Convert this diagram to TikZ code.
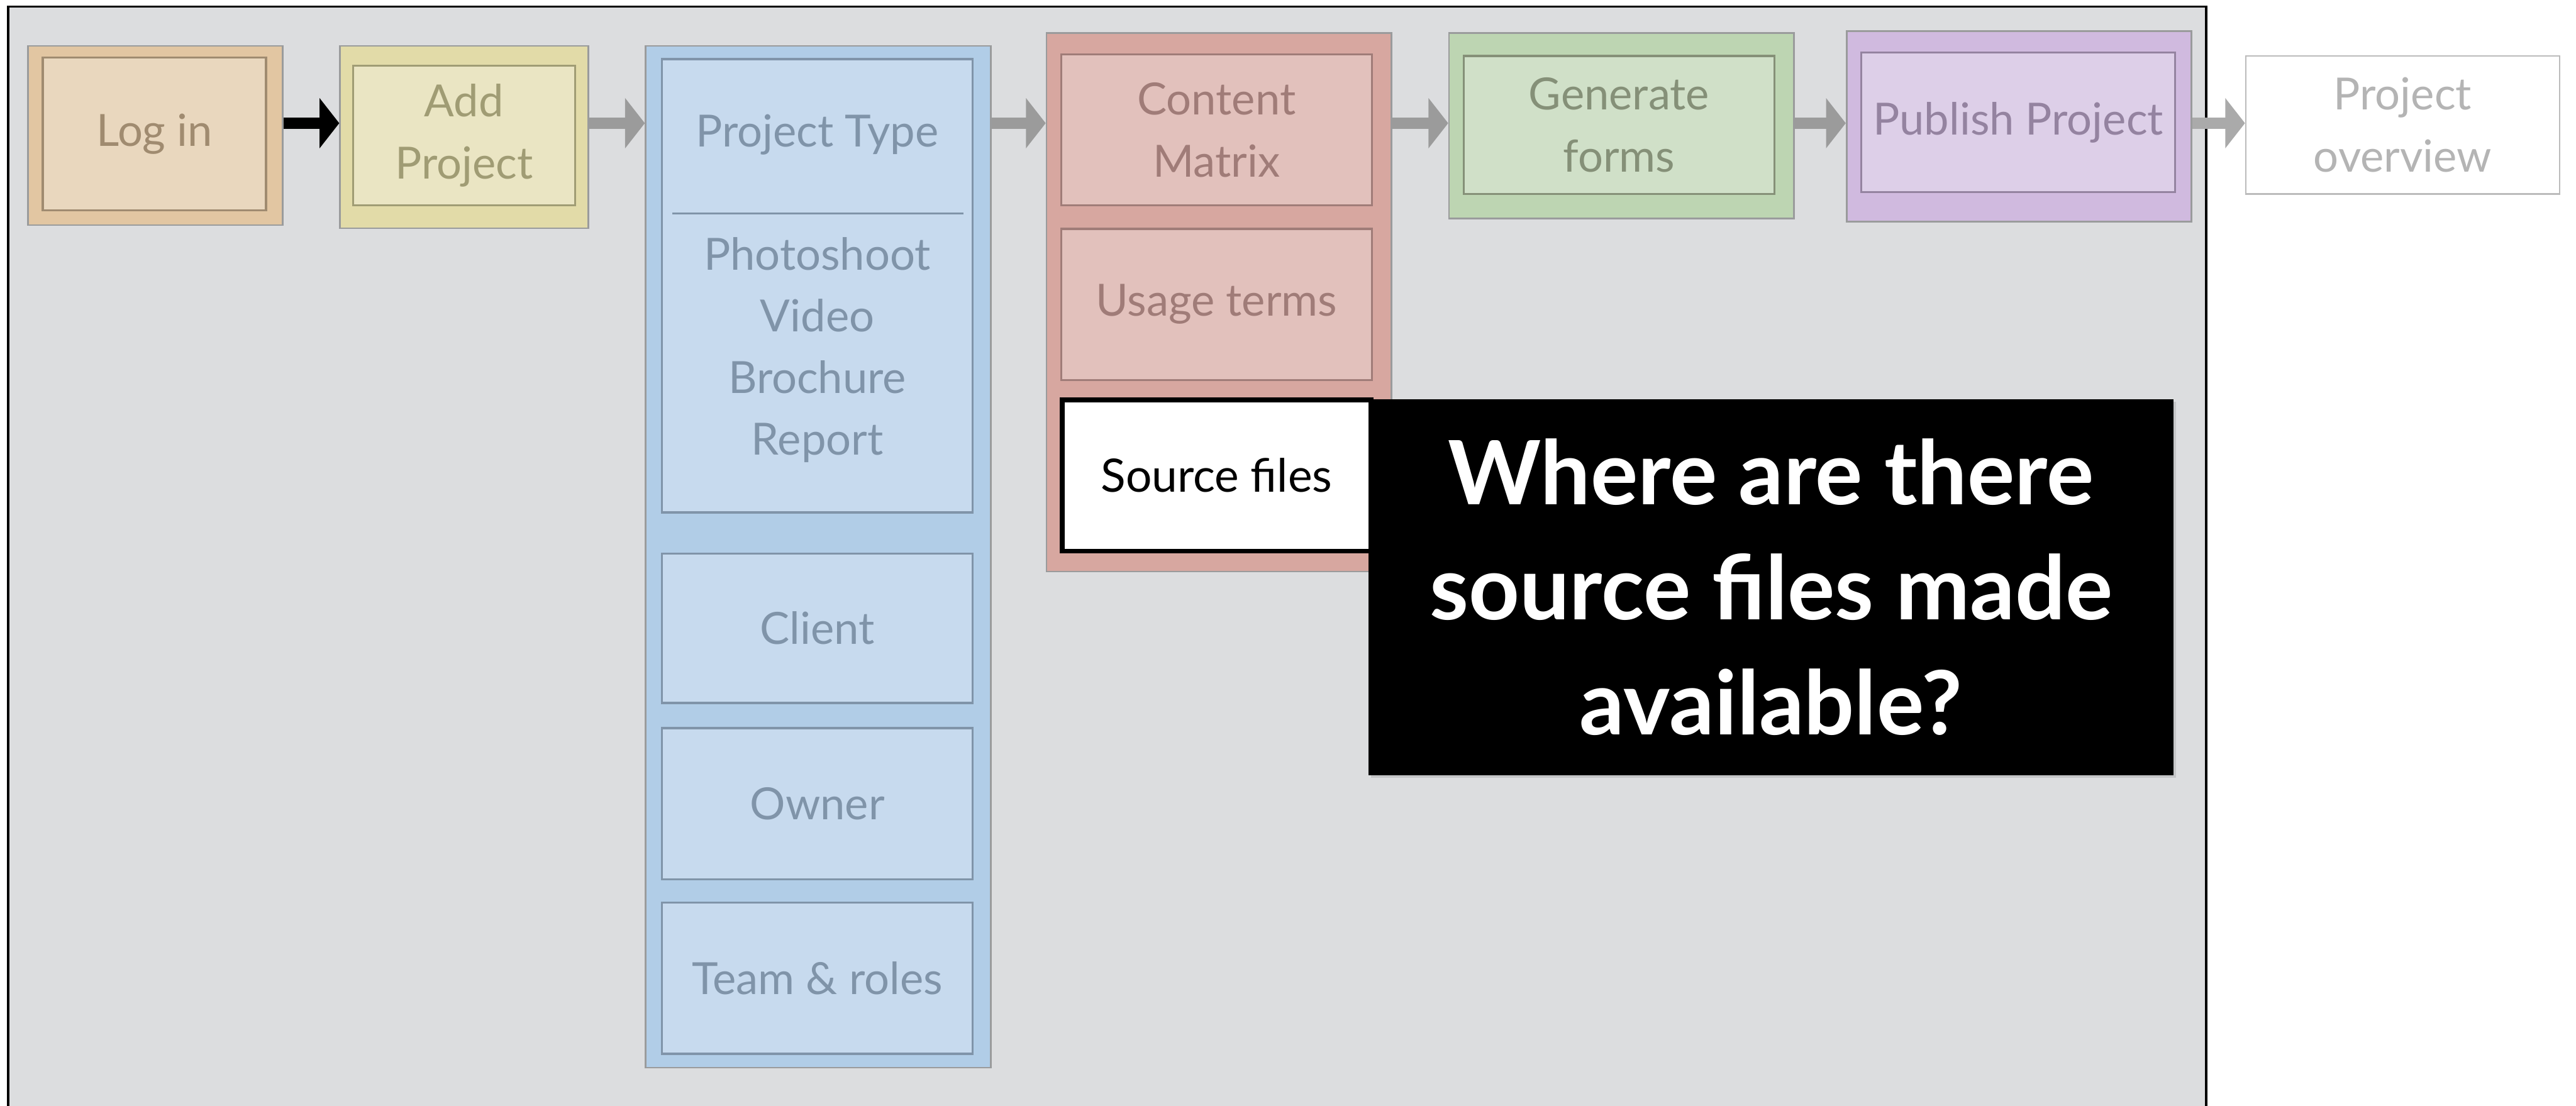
\documentclass[tikz,border=0pt]{standalone}
\usepackage{fontspec}
\setmainfont{Lato}
\usetikzlibrary{positioning,arrows.meta,calc,shadows}

\definecolor{bggrey}{HTML}{DCDDDF}
\definecolor{boxgrey}{HTML}{9A9B9C}
\definecolor{arrowgrey}{HTML}{9B9B9B}
% step colours: outer fill / inner fill / line+text
\definecolor{logout}{HTML}{E2C6A2}\definecolor{login}{HTML}{E9D7BE}\definecolor{logline}{HTML}{A08B70}
\definecolor{addout}{HTML}{E2DBA8}\definecolor{addin}{HTML}{EAE5C3}\definecolor{addline}{HTML}{A09C74}
\definecolor{blueout}{HTML}{B1CDE7}\definecolor{bluein}{HTML}{C7DAEE}\definecolor{blueline}{HTML}{8094A9}
\definecolor{redout}{HTML}{D7A7A0}\definecolor{redin}{HTML}{E2C1BC}\definecolor{redline}{HTML}{A07C78}
\definecolor{greenout}{HTML}{BDD5B2}\definecolor{greenin}{HTML}{D0E0C8}\definecolor{greenline}{HTML}{859078}
\definecolor{purpout}{HTML}{D0BADF}\definecolor{purpin}{HTML}{DDCFE8}\definecolor{purpline}{HTML}{9483A0}
\definecolor{fadegrey}{HTML}{B4B4B4}

\tikzset{
  outerbox/.style={rectangle, draw=boxgrey, line width=1pt, inner sep=0pt},
  innerbox/.style={rectangle, line width=1.3pt, inner sep=0pt, align=center, font=\fontsize{27}{38}\selectfont},
  txt/.style={align=center, inner sep=0pt, font=\fontsize{27}{37.5}\selectfont},
  connect/.style={-{Triangle[width=30pt,length=12pt]}, line width=7pt, draw=arrowgrey}
}

\begin{document}
\begin{tikzpicture}[x=1pt, y=-1pt]
  \useasboundingbox (0,0) rectangle (1568,673);

  % grey board
  \draw[fill=bggrey, draw=black, line width=1.5pt] (5,4) rectangle (1343,700);
  \coordinate (row) at (0,75);

  % Log in and Add Project
  \node[outerbox, fill=logout, minimum width=155pt, minimum height=109pt] (logbox) at (94.5,82.5) {};
  \node[innerbox, fill=login, draw=logline, text=logline, minimum width=136pt, minimum height=93pt] (log) at (94,81.5) {Log in};
  \node[outerbox, fill=addout, minimum width=151pt, minimum height=111pt] (addbox) at (282.5,83.5) {};
  \node[innerbox, fill=addin, draw=addline, text=addline, minimum width=135pt, minimum height=85pt] (add) at (282.5,82.5) {Add\\Project};

  % project details column
  \node[outerbox, fill=blueout, minimum width=210pt, minimum height=622pt] (bluebox) at (498,339) {};
  \node[innerbox, fill=bluein, draw=blueline, minimum width=189pt, minimum height=276pt] (ptype) at (497.5,174) {};
  \node[txt, text=blueline] (ptypetitle) at (497.5,82) {Project Type};
  \draw[blueline, line width=1pt] ($(ptype.west)+(7,-44)$) coordinate (sepl) -- ($(ptype.east)+(-6,-44)$) coordinate (sepr);
  \node[txt, text=blueline] (ptypelist) at (497.5,213) {Photoshoot\\Video\\Brochure\\Report};
  \node[innerbox, fill=bluein, draw=blueline, text=blueline, minimum width=189pt, minimum height=91pt] (client) at (497.5,382.5) {Client};
  \node[innerbox, fill=bluein, draw=blueline, text=blueline, minimum width=189pt, minimum height=92pt, below=14pt of client] (owner) {Owner};
  \node[innerbox, fill=bluein, draw=blueline, text=blueline, minimum width=189pt, minimum height=92pt, below=13pt of owner] (team) {Team \& roles};

  % content column
  \node[outerbox, fill=redout, minimum width=210pt, minimum height=328pt] (redbox) at (742,184) {};
  \node[innerbox, fill=redin, draw=redline, text=redline, minimum width=189pt, minimum height=92pt] (matrix) at (740.5,79) {Content\\Matrix};
  \node[innerbox, fill=redin, draw=redline, text=redline, minimum width=189pt, minimum height=92pt, below=13pt of matrix] (usage) {Usage terms};
  \node[innerbox, fill=white, draw=black, line width=3pt, text=black, minimum width=188pt, minimum height=92pt, font=\fontsize{28}{38}\selectfont] (source) at (740.5,289.5) {Source files};

  % remaining steps
  \node[outerbox, fill=greenout, minimum width=210pt, minimum height=113pt] (greenbox) at (987,76.5) {};
  \node[innerbox, fill=greenin, draw=greenline, text=greenline, minimum width=189pt, minimum height=84pt] (forms) at (985.5,76) {Generate\\forms};
  \node[outerbox, fill=purpout, minimum width=210pt, minimum height=116pt] (purpbox) at (1229,77) {};
  \node[innerbox, fill=purpin, draw=purpline, text=purpline, minimum width=191pt, minimum height=85pt] (publish) at (1228.5,74.5) {Publish Project};
  \node[innerbox, fill=white, draw=fadegrey!90, line width=1pt, text=fadegrey, minimum width=191pt, minimum height=84pt] (overview) at (1462.5,76) {Project\\overview};

  % arrows between the steps
  \draw[connect, draw=black] (logbox.east |- row) -- (addbox.west |- row);
  \foreach \a/\b in {addbox/bluebox, bluebox/redbox, redbox/greenbox, greenbox/purpbox} {
    \draw[connect] (\a.east |- row) -- (\b.west |- row);
  }
  \draw[connect, draw=arrowgrey!85] (purpbox.east |- row) -- (overview.west |- row);

  % the question
  \node[rectangle, fill=black, text=white, inner sep=0pt, align=center,
        minimum width=490pt, minimum height=229pt,
        drop shadow={shadow xshift=1.5pt, shadow yshift=-1.5pt, opacity=0.25},
        font=\fontsize{54}{70}\selectfont\bfseries] (question) at (1078,357.5)
        {Where are there\\source files made\\available?};
\end{tikzpicture}
\end{document}
